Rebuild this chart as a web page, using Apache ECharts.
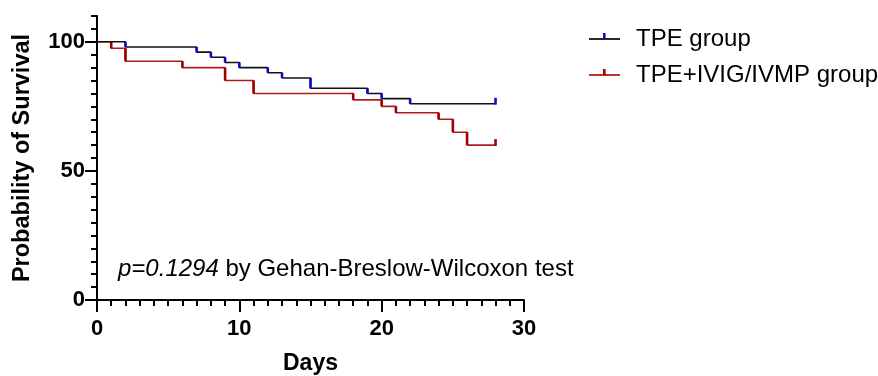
<!DOCTYPE html>
<html>
<head>
<meta charset="utf-8">
<script src="https://cdn.jsdelivr.net/npm/echarts@6/dist/echarts.min.js"></script>
<style>
html,body{margin:0;padding:0;background:#fff;}
#chart{width:878px;height:376px;}
</style>
</head>
<body>
<div id="chart"></div>
<script>
// ---- data ----
const tpeName = 'TPE group';
const comboName = 'TPE+IVIG/IVMP group';
const tpeDays = [0, 2, 7, 8, 9, 10, 12, 13, 15, 19, 20, 22, 28];
const tpeSurv = [100, 98, 96, 94, 92, 90, 88, 86, 82, 80, 78, 76, 76];
const comboDays = [0, 1, 2, 6, 9, 11, 18, 20, 21, 24, 25, 26, 28];
const comboSurv = [100, 97.5, 92.5, 90, 85, 80, 77.5, 75, 72.5, 70, 65, 60, 60];
const xTickValues = [0, 10, 20, 30];
const yLabelValues = [0, 50, 100];
const xAxisTitle = 'Days';
const yAxisTitle = 'Probability of Survival';
const pValueText = 'p=0.1294';
const testText = ' by Gehan-Breslow-Wilcoxon test';

const FONT = '"Liberation Sans", Arial, sans-serif';
const BLUE = '#0a0ad0';
const RED_V = '#a00000';
const RED_H = '#b01c1c';

function stepData(days, surv) { return days.map((d, i) => [d, surv[i]]); }
function dropData(days, surv) {
  const out = [];
  for (let i = 1; i < days.length; i++) {
    if (surv[i] !== surv[i - 1]) out.push([days[i], surv[i - 1], surv[i]]);
  }
  return out;
}
function censorData(days, surv) {
  const n = days.length - 1;
  return [[days[n], surv[n]]];
}
function dropRender(color) {
  return function (params, api) {
    const p1 = api.coord([api.value(0), api.value(1)]);
    const p2 = api.coord([api.value(0), api.value(2)]);
    return { type: 'line', shape: { x1: p1[0], y1: p1[1], x2: p2[0], y2: p2[1] },
      style: { stroke: color, lineWidth: 2.6 } };
  };
}
function censorRender(color) {
  return function (params, api) {
    const p = api.coord([api.value(0), api.value(1)]);
    return { type: 'line', shape: { x1: p[0], y1: p[1] + 0.8, x2: p[0], y2: p[1] - 6 },
      style: { stroke: color, lineWidth: 2.6 } };
  };
}

const chart = echarts.init(document.getElementById('chart'), null, { renderer: 'canvas' });
const axisLineStyle = { color: '#000', width: 2 };
chart.setOption({
  animation: false,
  backgroundColor: '#fff',
  textStyle: { fontFamily: FONT },
  grid: { left: 97, right: 354, top: 16, bottom: 76, containLabel: false, outerBoundsMode: 'none' },
  legend: [
    {
      orient: 'vertical', left: 584, top: 22, itemGap: 12,
      itemWidth: 31, itemHeight: 1.8, icon: 'rect', selectedMode: false,
      data: [{ name: tpeName, itemStyle: { color: '#111' } }, { name: comboName, itemStyle: { color: RED_H } }],
      textStyle: { fontSize: 24, lineHeight: 24, color: '#000', fontFamily: FONT, padding: [0, 0, 0, 11] }
    },
    {
      orient: 'vertical', left: 598, top: 19, itemGap: 12,
      itemWidth: 2.6, itemHeight: 6, icon: 'rect', selectedMode: false,
      data: [{ name: tpeName, itemStyle: { color: BLUE } }, { name: comboName, itemStyle: { color: RED_V } }],
      formatter: function () { return ' '; },
      textStyle: { fontSize: 24, lineHeight: 24, color: 'rgba(0,0,0,0)', fontFamily: FONT }
    }
  ],
  xAxis: {
    type: 'value', min: 0, max: 30, interval: 10,
    name: xAxisTitle, nameLocation: 'middle', nameGap: 52,
    nameTextStyle: { fontSize: 23, fontWeight: 'bold', color: '#000', fontFamily: FONT },
    axisLine: { show: true, lineStyle: axisLineStyle },
    axisTick: { show: true, length: 12, lineStyle: { color: '#000', width: 2 } },
    minorTick: { show: true, splitNumber: 10, length: 6, lineStyle: { color: '#000', width: 2 } },
    axisLabel: { fontSize: 22, fontWeight: 'bold', color: '#000', margin: 18, fontFamily: FONT,
      customValues: xTickValues },
    splitLine: { show: false }
  },
  yAxis: [
    {
      type: 'value', min: 0, max: 110, interval: 5,
      name: yAxisTitle, nameLocation: 'middle', nameGap: 62,
      nameTextStyle: { fontSize: 23.5, fontWeight: 'bold', color: '#000', fontFamily: FONT },
      axisLine: { show: true, lineStyle: axisLineStyle },
      axisTick: { show: true, length: 6, lineStyle: { color: '#000', width: 2 } },
      axisLabel: { fontSize: 22, fontWeight: 'bold', color: '#000', margin: 12, fontFamily: FONT,
        customValues: yLabelValues },
      splitLine: { show: false }
    },
    {
      type: 'value', min: 0, max: 110, interval: 5, position: 'left',
      axisLine: { show: false },
      axisTick: { show: true, length: 12, lineStyle: { color: '#000', width: 2 }, customValues: yLabelValues },
      axisLabel: { show: false },
      splitLine: { show: false }
    }
  ],
  graphic: [
    {
      type: 'text', left: 118, top: 257,
      style: {
        text: '{i|' + pValueText + '}{n|' + testText + '}',
        rich: {
          i: { fontSize: 24, fontStyle: 'italic', fill: '#000', fontFamily: FONT },
          n: { fontSize: 24, fill: '#000', fontFamily: FONT }
        }
      }
    }
  ],
  series: [
    {
      name: comboName, type: 'line', step: 'end', data: stepData(comboDays, comboSurv),
      showSymbol: false, symbol: 'none', lineStyle: { color: RED_H, width: 1.6 }, itemStyle: { color: RED_H }, z: 2
    },
    {
      name: comboName + ' drops', type: 'custom', data: dropData(comboDays, comboSurv),
      renderItem: dropRender(RED_V), z: 3
    },
    {
      name: comboName + ' censored', type: 'custom', data: censorData(comboDays, comboSurv),
      renderItem: censorRender(RED_V), z: 3
    },
    {
      name: tpeName, type: 'line', step: 'end', data: stepData(tpeDays, tpeSurv),
      showSymbol: false, symbol: 'none', lineStyle: { color: '#111', width: 1.6 }, itemStyle: { color: '#111' }, z: 4
    },
    {
      name: tpeName + ' drops', type: 'custom', data: dropData(tpeDays, tpeSurv),
      renderItem: dropRender(BLUE), z: 5
    },
    {
      name: tpeName + ' censored', type: 'custom', data: censorData(tpeDays, tpeSurv),
      renderItem: censorRender(BLUE), z: 5
    }
  ]
});
</script>
</body>
</html>
